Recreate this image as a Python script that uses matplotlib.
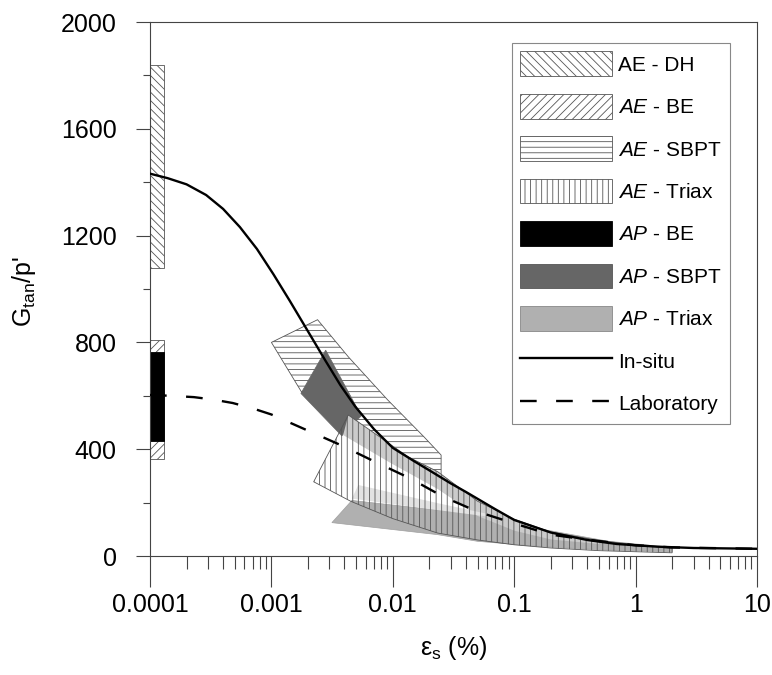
import matplotlib
matplotlib.use("Agg")
import matplotlib.pyplot as plt
from matplotlib.patches import Patch
from matplotlib.lines import Line2D
from matplotlib.ticker import LogLocator, FixedLocator, NullFormatter, FuncFormatter

plt.rcParams['font.family'] = ['Liberation Sans', 'DejaVu Sans']
plt.rcParams['mathtext.fontset'] = 'custom'
plt.rcParams['mathtext.rm'] = 'Liberation Sans'
plt.rcParams['mathtext.it'] = 'Liberation Sans:italic'
plt.rcParams['hatch.linewidth'] = 0.6
plt.rcParams['lines.scale_dashes'] = False

# ---------------- data ----------------
# AE - DH (down-hole) range at very small strain
dh_x = [1e-4, 1.3e-4, 1.3e-4, 1e-4]
dh_y = [1080, 1080, 1840, 1840]
# AE - BE
ae_be_x = [1e-4, 1.3e-4, 1.3e-4, 1e-4]
ae_be_y = [365, 365, 810, 810]
# AP - BE
ap_be_x = [1e-4, 1.3e-4, 1.3e-4, 1e-4]
ap_be_y = [430, 430, 765, 765]

# AE - SBPT band
ae_sbpt_x = [1.0e-3, 2.4e-3, 4.3e-3, 9.1e-3, 0.018, 0.025, 0.025, 0.018, 0.010, 5.0e-3, 3.4e-3, 2.3e-3, 1.8e-3]
ae_sbpt_y = [800, 885, 746, 584, 447, 378, 297, 315, 360, 430, 484, 559, 609]

# AP - SBPT
ap_sbpt_x = [1.75e-3, 2.8e-3, 5.5e-3, 3.8e-3]
ap_sbpt_y = [609, 771, 525, 450]

# AE - Triax band
ae_tx_x = [2.23e-3, 4.3e-3, 7.1e-3, 0.0133, 0.0234, 0.05, 0.1, 0.2, 0.5, 1.0, 2.0,
           2.0, 1.0, 0.5, 0.2, 0.1, 0.05, 0.0234, 0.010, 4.5e-3]
ae_tx_y = [278, 528, 459, 372, 316, 205, 138, 90, 58, 42, 30,
           12, 16, 20, 30, 42, 60, 86, 140, 205]

# AP - Triax (several overlapping ranges)
ap_tx1_x = [3.15e-3, 4.6e-3, 0.0234, 0.05, 0.17, 0.6, 2.0, 2.0, 0.6, 0.17, 0.05, 0.0234]
ap_tx1_y = [125, 208, 172, 160, 100, 55, 32, 16, 22, 35, 55, 80]
ap_tx2_x = [4.3e-3, 7.1e-3, 0.0133, 0.0234, 0.05, 0.1, 0.2, 0.5, 0.5, 0.2, 0.1, 0.05, 0.0234, 9.7e-3, 3.9e-3]
ap_tx2_y = [528, 459, 372, 316, 205, 138, 90, 58, 45, 62, 95, 150, 251, 347, 453]
ap_tx3_x = [5.2e-3, 0.0234, 0.06, 0.06, 0.0234, 4.6e-3]
ap_tx3_y = [266, 198, 158, 148, 172, 215]

# In-situ curve
insitu_x = [1e-4, 1.4e-4, 2e-4, 2.9e-4, 4.0e-4, 5.5e-4, 7.6e-4, 1.04e-3, 1.42e-3, 1.95e-3,
            2.8e-3, 3.7e-3, 4.9e-3, 7e-3, 0.01, 0.015, 0.021, 0.03, 0.04, 0.07, 0.1,
            0.2, 0.4, 0.7, 1.5, 3.0, 10.0]
insitu_y = [1432, 1415, 1392, 1352, 1300, 1232, 1150, 1055, 955, 850,
            730, 640, 560, 475, 405, 355, 315, 272, 240, 175, 135,
            88, 60, 45, 35, 30, 27]

# Laboratory curve
lab_x = [1e-4, 1.5e-4, 2.3e-4, 3.3e-4, 4.8e-4, 7e-4, 1e-3, 1.9e-3, 3.7e-3, 7.2e-3, 0.014,
         0.026, 0.05, 0.1, 0.2, 0.42, 1.0, 2.0, 10.0]
lab_y = [603, 600, 595, 586, 573, 553, 530, 474, 416, 352, 290,
         222, 166, 122, 80, 60, 40, 32, 27]

x_ticks = [1e-4, 1e-3, 1e-2, 1e-1, 1, 10]
x_tick_labels = ['0.0001', '0.001', '0.01', '0.1', '1', '10']
y_ticks = [0, 400, 800, 1200, 1600, 2000]
y_minor_ticks = [200, 600, 1000, 1400, 1800]

legend_labels = ['AE - DH', r'$\mathit{AE}$ - BE', r'$\mathit{AE}$ - SBPT', r'$\mathit{AE}$ - Triax',
                 r'$\mathit{AP}$ - BE', r'$\mathit{AP}$ - SBPT', r'$\mathit{AP}$ - Triax',
                 'In-situ', 'Laboratory']

# ---------------- figure ----------------
W, H = 772, 675
fig = plt.figure(figsize=(W / 100, H / 100), dpi=100)
L, R, T, B = 150, 757, 22, 556
ax = fig.add_axes([L / W, 1 - B / H, (R - L) / W, (B - T) / H])
ax.set_xscale('log')
ax.set_xlim(1e-4, 10)
ax.set_ylim(0, 2000)

edge = '#555555'
ax.fill(dh_x, dh_y, facecolor='white', edgecolor=edge, hatch='\\\\\\\\', lw=0.6, zorder=1)
ax.fill(ae_be_x, ae_be_y, facecolor='white', edgecolor=edge, hatch='////', lw=0.6, zorder=1)
ax.fill(ap_be_x, ap_be_y, facecolor='black', edgecolor='black', lw=0.6, zorder=1.5)

ax.fill(ae_sbpt_x, ae_sbpt_y, facecolor='white', edgecolor=edge, hatch='---', lw=0.6, zorder=2)
ax.fill(ap_sbpt_x, ap_sbpt_y, facecolor='#666666', edgecolor='#666666', lw=0.5, zorder=3)
ax.fill(ap_tx1_x, ap_tx1_y, facecolor='#b0b0b0', edgecolor='#a0a0a0', lw=0.5, zorder=4)
ax.fill(ap_tx2_x, ap_tx2_y, facecolor='#cbcbcb', edgecolor='none', lw=0, zorder=4)
ax.fill(ap_tx3_x, ap_tx3_y, facecolor='#e2e2e2', edgecolor='none', lw=0, zorder=4)
ax.fill(ae_tx_x, ae_tx_y, facecolor='none', edgecolor=edge, hatch='|||', lw=0.6, zorder=5)

ax.plot(insitu_x, insitu_y, color='black', lw=1.7, zorder=6)
ax.plot(lab_x, lab_y, color='black', lw=1.7, dashes=(12, 14), zorder=6)

# axes styling
for s in ax.spines.values():
    s.set_color('#444444')
    s.set_linewidth(0.8)
ax.xaxis.set_major_locator(FixedLocator(x_ticks))
ax.xaxis.set_major_formatter(FuncFormatter(lambda v, p: x_tick_labels[x_ticks.index(v)] if v in x_ticks else ''))
ax.xaxis.set_minor_locator(LogLocator(base=10, subs=range(2, 10), numticks=20))
ax.xaxis.set_minor_formatter(NullFormatter())
ax.yaxis.set_major_locator(FixedLocator(y_ticks))
ax.yaxis.set_minor_locator(FixedLocator(y_minor_ticks))
ax.tick_params(axis='x', which='major', direction='out', length=22, width=0.8, color='#444444',
               labelsize=18, pad=5)
ax.tick_params(axis='x', which='minor', direction='out', length=9.5, width=0.8, color='#444444')
ax.tick_params(axis='y', which='major', direction='out', length=10, width=0.8, color='#444444',
               labelsize=18, pad=14)
ax.tick_params(axis='y', which='minor', direction='out', length=5, width=0.8, color='#444444')

fig.text(24 / W, 1 - 292 / H, r"G$_{\mathrm{tan}}$/p'", rotation=90, ha='center', va='center', fontsize=18)
fig.text((L + R) / 2 / W, 1 - 648 / H, r"ε$_{\mathrm{s}}$ (%)", ha='center', va='center', fontsize=18)

handles = [
    Patch(facecolor='white', edgecolor=edge, hatch='\\\\\\\\', lw=0.6),
    Patch(facecolor='white', edgecolor=edge, hatch='////', lw=0.6),
    Patch(facecolor='white', edgecolor=edge, hatch='---', lw=0.6),
    Patch(facecolor='white', edgecolor=edge, hatch='|||', lw=0.6),
    Patch(facecolor='black', edgecolor='black', lw=0.6),
    Patch(facecolor='#666666', edgecolor='#555555', lw=0.6),
    Patch(facecolor='#b0b0b0', edgecolor='#888888', lw=0.6),
    Line2D([], [], color='black', lw=1.7),
    Line2D([], [], color='black', lw=1.7, dashes=(12, 14)),
]
leg = ax.legend(handles, legend_labels, loc='upper right',
                bbox_to_anchor=((730 - L) / (R - L), (B - 43) / (B - T)),
                borderaxespad=0, fontsize=15, handlelength=4.4, handleheight=1.45,
                labelspacing=0.85, handletextpad=0.3, borderpad=0.4, fancybox=False,
                framealpha=1, edgecolor='#888888')
leg.get_frame().set_linewidth(0.8)
leg.set_zorder(10)

fig.savefig('out.png', dpi=100)
